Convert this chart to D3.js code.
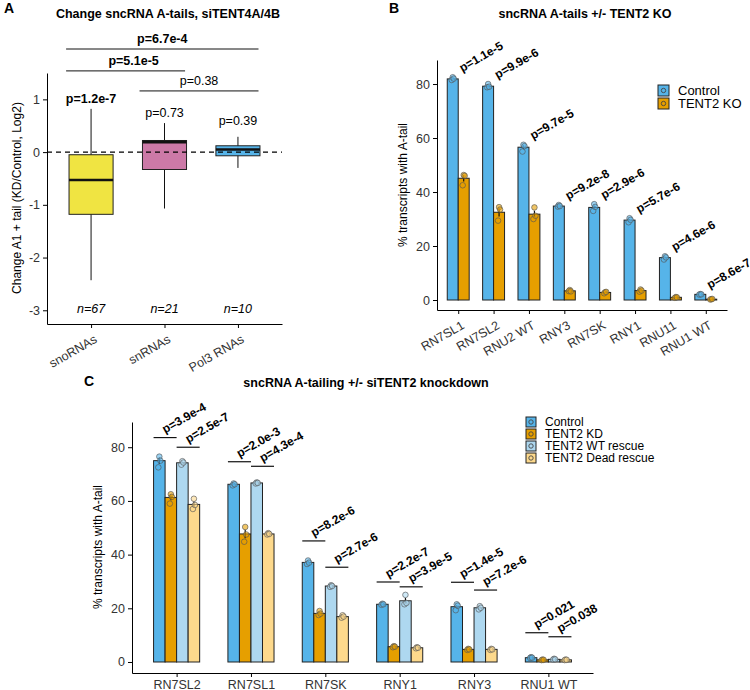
<!DOCTYPE html>
<meta charset="utf-8">
<style>
body { margin: 0; background: #fff; }
text { font-family: "Liberation Sans", Arial, sans-serif; }
.tick text { fill: #333; font-size: 12.5px; }
.tick line, .domain { stroke: #000; }
</style>
<svg width="750" height="690"></svg>
<script src="https://cdn.jsdelivr.net/npm/d3@7"></script>
<script>

// ---------- panel A data ----------
var aCats = ["snoRNAs", "snRNAs", "Pol3 RNAs"];
var aLow = [-2.43, -1.07, -0.30];
var aQ1 = [-1.18, -0.33, -0.07];
var aMed = [-0.53, 0.19, 0.05];
var aQ3 = [-0.05, 0.22, 0.12];
var aHigh = [0.82, 0.55, 0.29];
var aN = ["n=67", "n=21", "n=10"];
var aP = ["p=1.2e-7", "p=0.73", "p=0.39"];
var aPBold = [true, false, false];
var aPAt = [0.93, 0.66, 0.51];
var aBrFrom = [0, 0, 1], aBrTo = [2, 1, 2];
var aBrAt = [1.955, 1.54, 1.16];
var aBrLab = ["p=6.7e-4", "p=5.1e-5", "p=0.38"];
var aBrBold = [true, true, false];
var aTicks = [-3, -2, -1, 0, 1];
var aColors = ["#F0E442", "#CC79A7", "#56B4E9"];

// ---------- panel B data ----------
var bCats = ["RN7SL1", "RN7SL2", "RNU2 WT", "RNY3", "RN7SK", "RNY1", "RNU11", "RNU1 WT"];
var bSeries = ["Control", "TENT2 KO"];
var bControl = [81.9, 79.2, 56.6, 34.8, 34.3, 29.6, 15.7, 2.1];
var bKO = [45.1, 32.5, 31.8, 3.4, 2.8, 3.5, 1.0, 0.3];
var bControlPts = [[82.5, 81.5, 82.0], [80.0, 78.8, 79.0], [57.5, 55.0, 57.0], [35.2, 34.6, 34.8],
                   [35.5, 33.0, 34.5], [30.3, 28.8, 29.7], [16.2, 15.0, 15.8], [2.2, 2.0, 2.1]];
var bKOPts = [[46.3, 42.5, 46.0], [34.4, 29.4, 33.5], [34.3, 30.0, 31.2], [3.7, 3.3, 3.2],
              [2.9, 2.5, 3.0], [3.9, 3.1, 3.5], [1.1, 0.8, 1.0], [0.3, 0.2, 0.4]];
var bP = ["p=1.1e-5", "p=9.9e-6", "p=9.7e-5", "p=9.2e-8", "p=2.9e-6", "p=5.7e-6", "p=4.6e-6", "p=8.6e-7"];
var bTicks = [0, 20, 40, 60, 80];
var bColors = ["#56B4E9", "#E69F00"];

// ---------- panel C data ----------
var cCats = ["RN7SL2", "RN7SL1", "RN7SK", "RNY1", "RNY3", "RNU1 WT"];
var cSeries = ["Control", "TENT2 KD", "TENT2 WT rescue", "TENT2 Dead rescue"];
var cControl = [75.0, 66.2, 37.1, 21.5, 20.6, 1.6];
var cKD = [61.3, 47.7, 18.1, 5.7, 4.7, 0.8];
var cWT = [74.2, 66.7, 28.3, 22.8, 20.2, 1.0];
var cDead = [58.7, 47.7, 16.9, 5.3, 4.7, 0.8];
var cControlPts = [[76.5, 72.5, 75.0], [66.5, 65.8, 66.2], [37.8, 36.5, 37.0], [21.7, 21.3, 21.5], [21.5, 19.3, 21.0], [1.8, 1.5, 1.6]];
var cKDPts = [[62.5, 59.0, 61.5], [50.3, 44.8, 47.5], [19.0, 17.5, 18.0], [5.9, 5.5, 5.7], [4.9, 4.5, 4.7], [0.9, 0.7, 0.8]];
var cWTPts = [[74.8, 73.5, 74.3], [66.9, 66.5, 66.7], [28.6, 28.0, 28.3], [25.0, 21.5, 22.0], [20.8, 19.6, 20.2], [1.2, 0.9, 1.0]];
var cDeadPts = [[60.8, 57.0, 58.5], [48.0, 47.5, 47.7], [17.4, 16.5, 16.9], [5.5, 5.1, 5.3], [4.9, 4.5, 4.7], [0.9, 0.7, 0.8]];
var cBrKD = [83.6, 74.6, 45.1, 29.8, 29.7, 10.9];
var cBrRescue = [80.0, 72.9, 35.3, 28.0, 26.8, 9.4];
var cPKD = ["p=3.9e-4", "p=2.0e-3", "p=8.2e-6", "p=2.2e-7", "p=1.4e-5", "p=0.021"];
var cPRescue = ["p=2.5e-7", "p=4.3e-4", "p=2.7e-6", "p=3.9e-5", "p=7.2e-6", "p=0.038"];
var cTicks = [0, 20, 40, 60, 80];
var cColors = ["#56B4E9", "#E69F00", "#AED8F0", "#FDD98C"];

var svg = d3.select("svg");

function se(arr) { return d3.deviation(arr) / Math.sqrt(arr.length); }
function plain(d) { return String(d); }   // ggplot style "-1", not unicode minus

function title(x, y, t) {
  svg.append("text").attr("x", x).attr("y", y).attr("text-anchor", "middle")
    .style("font-size", "12.5px").style("font-weight", "bold").text(t);
}
function panelLabel(x, y, t) {
  svg.append("text").attr("x", x).attr("y", y)
    .style("font-size", "14px").style("font-weight", "bold").text(t);
}
function yLabel(x, y, t) {
  svg.append("text").attr("transform", "translate(" + x + "," + y + ") rotate(-90)")
    .attr("text-anchor", "middle").style("font-size", "12px").text(t);
}

// =================== A ===================
var ax = d3.scalePoint().domain(d3.range(aCats.length)).range([47, 282]).padding(0.6),
    ay = d3.scaleLinear().domain([-3.26, 1.5]).range([324, 73]);
var aStep = ax.step();
var gA = svg.append("g");

panelLabel(4, 13, "A");
title(168, 18, "Change sncRNA A-tails, siTENT4A/4B");
yLabel(21, 198, "Change A1 + tail (KD/Control, Log2)");

gA.append("g").attr("transform", "translate(47,0)")
  .call(d3.axisLeft(ay).tickValues(aTicks).tickFormat(plain).tickSize(4).tickSizeOuter(0));
gA.append("g").attr("transform", "translate(0,324)")
  .call(d3.axisBottom(ax).tickSize(4).tickSizeOuter(0).tickFormat(function(i) { return aCats[i]; }))
  .selectAll("text")
    .attr("x", 0).attr("y", 0).attr("dy", "0.71em")
    .attr("transform", "translate(2,10) rotate(-30)")
    .style("text-anchor", "end");

aCats.forEach(function(c, i) {
  var cx = ax(i), bw = aStep * 0.6;
  gA.append("line").attr("x1", cx).attr("x2", cx).attr("y1", ay(aLow[i])).attr("y2", ay(aHigh[i]))
    .attr("stroke", "#111").attr("stroke-width", 1);
  gA.append("rect").attr("x", cx - bw / 2).attr("width", bw)
    .attr("y", ay(aQ3[i])).attr("height", ay(aQ1[i]) - ay(aQ3[i]))
    .attr("fill", aColors[i]).attr("stroke", "#222").attr("stroke-width", 1);
  gA.append("line").attr("x1", cx - bw / 2).attr("x2", cx + bw / 2)
    .attr("y1", ay(aMed[i])).attr("y2", ay(aMed[i]))
    .attr("stroke", "#111").attr("stroke-width", 2.6);
  gA.append("text").attr("x", cx).attr("y", ay(aPAt[i])).attr("text-anchor", "middle")
    .style("font-size", "12.5px").style("font-weight", aPBold[i] ? "bold" : "normal").text(aP[i]);
  gA.append("text").attr("x", cx).attr("y", ay(-3) + 3).attr("text-anchor", "middle")
    .style("font-size", "12.5px").style("font-style", "italic").text(aN[i]);
});

gA.append("line").attr("x1", 47).attr("x2", 282).attr("y1", ay(0)).attr("y2", ay(0))
  .attr("stroke", "#000").attr("stroke-width", 1.2).attr("stroke-dasharray", "5,4");

aBrLab.forEach(function(lab, k) {
  var x1 = ax(aBrFrom[k]) - aStep * 0.34, x2 = ax(aBrTo[k]) + aStep * 0.28, yy = ay(aBrAt[k]);
  gA.append("line").attr("x1", x1).attr("x2", x2).attr("y1", yy).attr("y2", yy)
    .attr("stroke", "#111").attr("stroke-width", 1);
  gA.append("text").attr("x", (x1 + x2) / 2 + (k == 1 ? 8 : 0)).attr("y", yy - 6).attr("text-anchor", "middle")
    .style("font-size", "12.5px").style("font-weight", aBrBold[k] ? "bold" : "normal").text(lab);
});

// helper for grouped bars
function groupedBars(g, x, y, means, pts, colors) {
  var n = means.length, total = x.step() * 0.62, w = total / n;
  means.forEach(function(series, j) {
    series.forEach(function(v, i) {
      var left = x(i) - total / 2 + j * w;
      g.append("rect").attr("x", left).attr("width", w)
        .attr("y", y(v)).attr("height", y(0) - y(v))
        .attr("fill", colors[j]).attr("stroke", "#222").attr("stroke-width", 1);
      var e = se(pts[j][i]);
      g.append("line").attr("x1", left + w / 2).attr("x2", left + w / 2)
        .attr("y1", y(v - e)).attr("y2", y(v + e)).attr("stroke", "#111").attr("stroke-width", 1.2);
      pts[j][i].forEach(function(p, r) {
        g.append("circle").attr("cx", left + w / 2 + [0, -1, 1][r]).attr("cy", y(p)).attr("r", 2.8)
          .attr("fill", colors[j]).attr("fill-opacity", 0.6)
          .attr("stroke", "#555").attr("stroke-opacity", 0.7).attr("stroke-width", 0.9);
      });
    });
  });
}

function legend(g, x, y, names, colors, step, size, fs) {
  names.forEach(function(nm, i) {
    var yy = y + i * step;
    g.append("rect").attr("x", x).attr("y", yy).attr("width", size).attr("height", size)
      .attr("fill", colors[i]).attr("stroke", "#222").attr("stroke-width", 1);
    g.append("circle").attr("cx", x + size / 2).attr("cy", yy + size / 2).attr("r", 2.2)
      .attr("fill", "none").attr("stroke", "#444").attr("stroke-width", 0.9);
    g.append("text").attr("x", x + size + 9).attr("y", yy + size / 2).attr("dy", "0.36em")
      .style("font-size", fs).text(nm);
  });
}

// =================== B ===================
var bx = d3.scalePoint().domain(d3.range(bCats.length)).range([437, 727]).padding(0.6),
    by = d3.scaleLinear().domain([-3.7, 88.9]).range([310, 60]);
var gB = svg.append("g");

panelLabel(389, 13, "B");
title(585, 18, "sncRNA A-tails +/- TENT2 KO");
yLabel(407, 185, "% transcripts with A-tail");

gB.append("g").attr("transform", "translate(437,0)")
  .call(d3.axisLeft(by).tickValues(bTicks).tickFormat(plain).tickSize(4).tickSizeOuter(0));
gB.append("g").attr("transform", "translate(0,310)")
  .call(d3.axisBottom(bx).tickSize(4).tickSizeOuter(0).tickFormat(function(i) { return bCats[i]; }))
  .selectAll("text")
    .attr("x", 0).attr("y", 0).attr("dy", "0.71em")
    .attr("transform", "translate(2,10) rotate(-30)")
    .style("text-anchor", "end");

groupedBars(gB, bx, by, [bControl, bKO], [bControlPts, bKOPts], bColors);

bP.forEach(function(lab, i) {
  var top = d3.max(bControlPts[i].concat([bControl[i]]));
  gB.append("text").attr("transform", "translate(" + (bx(i) + 4) + "," + (by(top) - 5) + ") rotate(-30)")
    .style("font-size", "12px").style("font-weight", "bold").text(lab);
});

legend(gB, 658, 85, bSeries, bColors, 13, 11, "13px");

// =================== C ===================
var cx = d3.scalePoint().domain(d3.range(cCats.length)).range([132, 593]).padding(0.6),
    cy = d3.scaleLinear().domain([-4.1, 89.4]).range([673, 422]);
var gC = svg.append("g");

panelLabel(84, 386, "C");
title(366, 387, "sncRNA A-tailing +/- siTENT2 knockdown");
yLabel(102, 547, "% transcripts with A-tail");

gC.append("g").attr("transform", "translate(132,0)")
  .call(d3.axisLeft(cy).tickValues(cTicks).tickFormat(plain).tickSize(4).tickSizeOuter(0));
gC.append("g").attr("transform", "translate(0,673)")
  .call(d3.axisBottom(cx).tickSize(4).tickSizeOuter(0).tickFormat(function(i) { return cCats[i]; }));

groupedBars(gC, cx, cy, [cControl, cKD, cWT, cDead], [cControlPts, cKDPts, cWTPts, cDeadPts], cColors);

cCats.forEach(function(c, i) {
  var half = cx.step() * 0.31;
  [[cBrKD[i], cPKD[i], -1], [cBrRescue[i], cPRescue[i], 0]].forEach(function(b) {
    var x1 = cx(i) + b[2] * half, x2 = x1 + half, yy = cy(b[0]);
    gC.append("line").attr("x1", x1).attr("x2", x2).attr("y1", yy).attr("y2", yy)
      .attr("stroke", "#111").attr("stroke-width", 1.2);
    gC.append("text").attr("transform", "translate(" + ((x1 + x2) / 2) + "," + (yy - 4) + ") rotate(-30)")
      .style("font-size", "12px").style("font-weight", "bold").text(b[1]);
  });
});

legend(gC, 526, 417, cSeries, cColors, 12, 10, "12px");

</script>
